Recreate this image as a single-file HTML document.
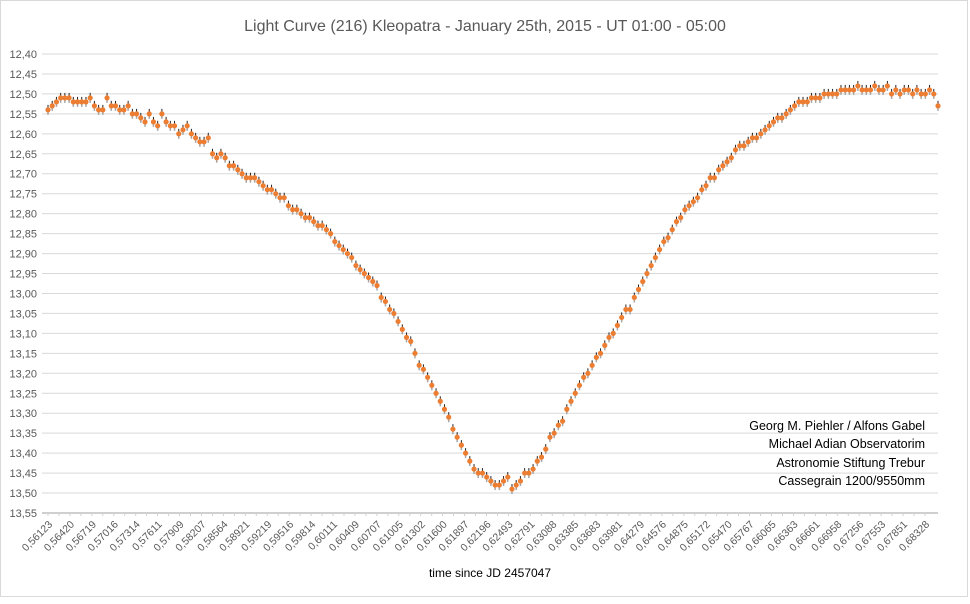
<!DOCTYPE html>
<html><head><meta charset="utf-8"><style>
body{margin:0;background:#fff;}
svg text{font-family:"Liberation Sans",sans-serif;fill:#595959;}
</style></head><body>
<svg id="chart" width="970" height="599" xmlns="http://www.w3.org/2000/svg">
<rect x="0.5" y="0.5" width="967" height="596" fill="#fff" stroke="#d9d9d9"/>
<text x="485" y="31" font-size="16" text-anchor="middle">Light Curve (216) Kleopatra - January 25th, 2015 - UT 01:00 - 05:00</text>
<g id="grid"></g><g id="yl"></g><g id="xl"></g><g id="marks"></g>
<text x="490" y="577" font-size="12" text-anchor="middle" style="fill:#000">time since JD 2457047</text>
<g font-size="12.5" text-anchor="end">
<text x="925" y="430" style="fill:#000">Georg M. Piehler / Alfons Gabel</text>
<text x="925" y="448" style="fill:#000">Michael Adian Observatorim</text>
<text x="925" y="467" style="fill:#000">Astronomie Stiftung Trebur</text>
<text x="925" y="485" style="fill:#000">Cassegrain 1200/9550mm</text>
</g>
</svg>
<script>
const yTicks=["12,40","12,45","12,50","12,55","12,60","12,65","12,70","12,75","12,80","12,85","12,90","12,95","13,00","13,05","13,10","13,15","13,20","13,25","13,30","13,35","13,40","13,45","13,50","13,55"];
const xLabels=["0,56123","0,56420","0,56719","0,57016","0,57314","0,57611","0,57909","0,58207","0,58564","0,58921","0,59219","0,59516","0,59814","0,60111","0,60409","0,60707","0,61005","0,61302","0,61600","0,61897","0,62196","0,62493","0,62791","0,63088","0,63385","0,63683","0,63981","0,64279","0,64576","0,64875","0,65172","0,65470","0,65767","0,66065","0,66363","0,66661","0,66958","0,67256","0,67553","0,67851","0,68328"];
const mags=[12.54,12.53,12.52,12.51,12.51,12.51,12.52,12.52,12.52,12.52,12.51,12.53,12.54,12.54,12.51,12.53,12.53,12.54,12.54,12.53,12.55,12.55,12.56,12.57,12.55,12.57,12.58,12.55,12.57,12.58,12.58,12.60,12.59,12.58,12.60,12.61,12.62,12.62,12.61,12.65,12.66,12.65,12.66,12.68,12.68,12.69,12.70,12.71,12.71,12.71,12.72,12.73,12.74,12.74,12.75,12.76,12.76,12.78,12.79,12.79,12.80,12.81,12.81,12.82,12.83,12.83,12.84,12.85,12.87,12.88,12.89,12.90,12.91,12.93,12.94,12.95,12.96,12.97,12.98,13.01,13.02,13.04,13.05,13.07,13.09,13.11,13.12,13.15,13.18,13.19,13.21,13.23,13.25,13.27,13.29,13.31,13.34,13.36,13.38,13.40,13.42,13.44,13.45,13.45,13.46,13.47,13.48,13.48,13.47,13.46,13.49,13.48,13.47,13.45,13.45,13.44,13.42,13.41,13.39,13.36,13.35,13.33,13.32,13.29,13.27,13.25,13.23,13.21,13.20,13.18,13.16,13.15,13.13,13.11,13.10,13.08,13.06,13.04,13.04,13.01,12.99,12.97,12.95,12.93,12.91,12.89,12.87,12.86,12.84,12.82,12.81,12.79,12.78,12.77,12.76,12.74,12.73,12.71,12.71,12.69,12.68,12.67,12.66,12.64,12.63,12.63,12.62,12.61,12.61,12.60,12.59,12.58,12.57,12.56,12.56,12.55,12.54,12.53,12.52,12.52,12.52,12.51,12.51,12.51,12.50,12.50,12.50,12.50,12.49,12.49,12.49,12.49,12.48,12.49,12.49,12.49,12.48,12.49,12.49,12.48,12.50,12.49,12.50,12.49,12.49,12.50,12.49,12.50,12.50,12.49,12.50,12.53];
const NS="http://www.w3.org/2000/svg";
const L=42,R=938,T=54,B=513,X0=48,X1=938,yMin=12.40,yMax=13.55;
const yS=v=>T+(v-yMin)/(yMax-yMin)*(B-T);
const xS=i=>X0+i*(X1-X0)/(mags.length-1);
const xLab=i=>X0+i*(925-X0)/(xLabels.length-1);
function mk(t,a,p){const e=document.createElementNS(NS,t);for(const k in a)e.setAttribute(k,a[k]);p.appendChild(e);return e;}
const grid=document.getElementById('grid'),yl=document.getElementById('yl'),xl=document.getElementById('xl'),marks=document.getElementById('marks');
yTicks.forEach((t,i)=>{const v=parseFloat(t.replace(',','.'));const y=yS(v);
 const g=mk('line',{x1:L,x2:R,y1:y,y2:y,stroke:i==yTicks.length-1?'#bfbfbf':'#d9d9d9','stroke-width':i==yTicks.length-1?1.5:1},grid);
 
 
 const tx=mk('text',{x:37,y:y+4,'font-size':11,'text-anchor':'end'},yl);tx.textContent=t;
 
 
});
for(let i=0;i<xLabels.length*2-1;i++){const x=xLab(i/2);
 const tk=mk('line',{x1:x,x2:x,y1:B,y2:B+3,stroke:'#d0d0d0'},grid);
 
 
}
xLabels.forEach((t,i)=>{const x=xLab(i);
 const tx=mk('text',{x:x+5,y:B+12,'font-size':10.5,'text-anchor':'end',transform:`rotate(-45 ${x+5} ${B+12})`},xl);tx.textContent=t;
 
 
});
mags.forEach((v,i)=>{const x=xS(i),y=yS(v);
 const e1=mk('line',{x1:x,x2:x,y1:y-5,y2:y,stroke:'#222','stroke-width':1},marks);
 
 
 const e2=mk('line',{x1:x,x2:x,y1:y,y2:y+5,stroke:'#a6a6a6','stroke-width':1.5},marks);
 
 
 const c=mk('circle',{cx:x,cy:y,r:2.6,fill:'#ed7d31'},marks);
 
 
});
</script>
</body></html>
